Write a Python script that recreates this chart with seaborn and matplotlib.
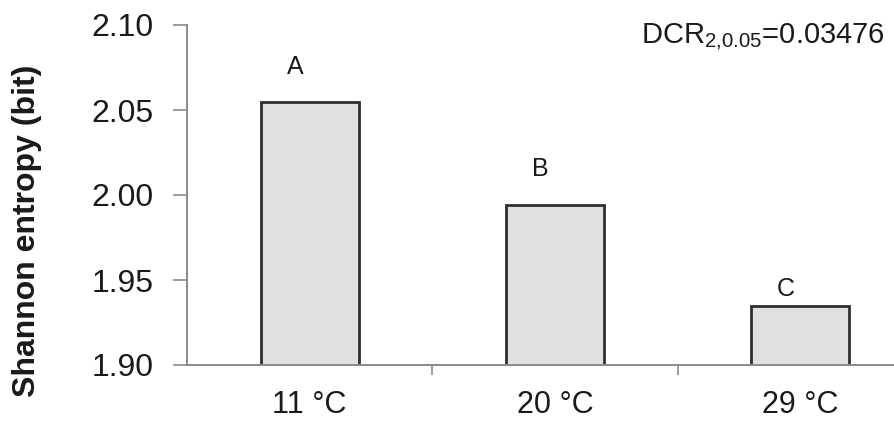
import matplotlib
matplotlib.use("Agg")
import matplotlib.pyplot as plt
import seaborn as sns
import pandas as pd

# Shannon entropy by incubation temperature
temperatures = ["11 °C", "20 °C", "29 °C"]
entropy = [2.055, 1.994, 1.935]
groups = ["A", "B", "C"]
y_ticks = [1.90, 1.95, 2.00, 2.05, 2.10]

sns.set_style("ticks")
plt.rcParams["font.family"] = ["Liberation Sans", "DejaVu Sans"]
plt.rcParams["mathtext.fontset"] = "custom"
plt.rcParams["mathtext.rm"] = "Liberation Sans"

df = pd.DataFrame({"temperature": temperatures, "entropy": entropy})

fig = plt.figure(figsize=(8.95, 4.25), dpi=100)
ax = fig.add_axes([187 / 895, 60 / 425, 736 / 895, 340 / 425])

sns.barplot(data=df, x="temperature", y="entropy", ax=ax, width=0.40,
            color="#e0e0e0", edgecolor="#2e2e2e", linewidth=2.0,
            saturation=1)

ax.set_ylim(1.90, 2.10)
ax.set_xlim(-0.5, 2.5)
ax.set_yticks(y_ticks)
ax.set_yticklabels([f"{t:.2f}" for t in y_ticks])
# separators between categories as major ticks, names on minor ticks
ax.set_xticks([0.5, 1.5], labels=["", ""])
ax.set_xticks([0, 1, 2], labels=temperatures, minor=True)
ax.tick_params(axis="x", which="minor", length=0, pad=18, labelsize=22,
               colors="#1a1a1a")
ax.tick_params(axis="x", which="major", length=7, width=1.2, color="#8a8a8a")
ax.tick_params(axis="y", length=10, width=1.2, color="#8a8a8a", pad=14,
               labelsize=23, labelcolor="#1a1a1a")

for side in ("top", "right"):
    ax.spines[side].set_visible(False)
for side in ("left", "bottom"):
    ax.spines[side].set_color("#8a8a8a")
    ax.spines[side].set_linewidth(1.4)

ax.set_xlabel("")
ax.set_ylabel("Shannon entropy (bit)", fontsize=23, fontweight="bold",
              color="#1a1a1a", va="center")
ax.yaxis.set_label_coords(27 / 895, 1 - 231 / 425, transform=fig.transFigure)

# significance letters above each bar
letter_dy = [0.020, 0.021, 0.010]
for i, (val, g) in enumerate(zip(entropy, groups)):
    ax.text(i - 0.06, val + letter_dy[i], g, ha="center", va="center",
            fontsize=18, color="#1a1a1a")

fig.text(885 / 895, 1 - 38 / 425, r"DCR$_{2{,}0.05}$=0.03476", ha="right",
         va="center", fontsize=21, color="#1a1a1a")

fig.savefig("out.png", dpi=100)
